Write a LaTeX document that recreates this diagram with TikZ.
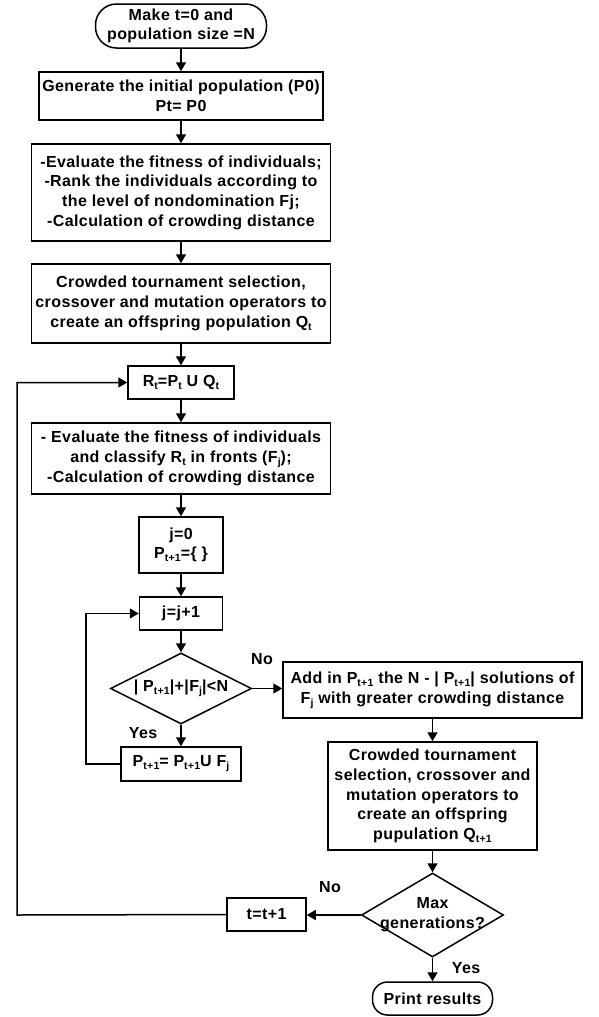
\documentclass[tikz,border=0pt]{standalone}
\usepackage{fontspec}
\setmainfont{Liberation Sans}[LetterSpace=2.5]
\usetikzlibrary{arrows.meta,shapes.geometric}
\newcommand\lowr[1]{\raisebox{-0.35ex}{\fontsize{10.5pt}{10.5pt}\selectfont #1}}
\tikzset{
  base/.style={draw=black, line width=1.5pt, inner sep=0pt, align=center,
    font=\fontsize{16}{19.7}\selectfont\bfseries},
  procbox/.style={base, rectangle},
  termbox/.style={base, rounded corners=#1},
  decbox/.style={draw=black, line width=1.5pt, shape=diamond, inner sep=0pt, aspect=2},
  lbl/.style={inner sep=0pt, font=\fontsize{16}{19.7}\selectfont\bfseries},
  arr/.style={line width=1.5pt, -{Triangle[length=9pt,width=10pt]}},
  ln/.style={line width=1.5pt}
}
\begin{document}
\begin{tikzpicture}[x=1pt,y=1pt]
\useasboundingbox[fill=white] (0,0) rectangle (599,-1017);
\node[termbox=21pt, minimum width=171pt, minimum height=44pt] (start) at (181,-26) {Make t=0 and\\population size =N};
\node[procbox, minimum width=284pt, minimum height=48pt] (gen) at (181,-96) {Generate the initial population (P0)\\Pt= P0};
\node[procbox, minimum width=299pt, minimum height=97pt] (eval) at (181,-192.5) {-Evaluate the fitness of individuals;\\-Rank the individuals according to\\the level of nondomination Fj;\\-Calculation of crowding distance};
\node[procbox, minimum width=299pt, minimum height=79pt] (cts) at (181,-303.5) {Crowded tournament selection,\\crossover and mutation operators to\\create an offspring population Q\lowr{t}};
\node[procbox, minimum width=106pt, minimum height=33pt] (rt) at (181,-382.5) {R\lowr{t}=P\lowr{t} U Q\lowr{t}};
\node[procbox, minimum width=299pt, minimum height=71pt] (evaltwo) at (181,-458.5) {- Evaluate the fitness of individuals\\and classify R\lowr{t} in fronts (F\lowr{j});\\-Calculation of crowding distance};
\node[procbox, minimum width=84pt, minimum height=56pt] (jzero) at (181,-545) {j=0\\P\lowr{t+1}=\{ \}};
\node[procbox, minimum width=83pt, minimum height=33pt] (jj) at (181,-613.5) {j=j+1};
\node[decbox, minimum width=141pt, minimum height=71pt] (dia) at (181,-688.5) {};
\node[lbl] (diatext) at (dia.center) {| P\lowr{t+1}|+|F\lowr{j}|<N};
\node[procbox, minimum width=120pt, minimum height=34pt] (pb) at (181,-764) {P\lowr{t+1}= P\lowr{t+1}U F\lowr{j}};
\node[procbox, minimum width=299pt, minimum height=56pt] (add) at (432.5,-690) {Add in P\lowr{t+1} the N - | P\lowr{t+1}| solutions of\\F\lowr{j} with greater crowding distance};
\node[procbox, minimum width=209pt, minimum height=108pt] (ctstwo) at (432.5,-796) {Crowded tournament\\selection, crossover and\\mutation operators to\\create an offspring\\pupulation Q\lowr{t+1}};
\node[decbox, minimum width=142pt, minimum height=84pt] (maxd) at (432.5,-915) {};
\node[lbl, align=center] (maxtext) at (maxd.center) {Max\\generations?};
\node[procbox, minimum width=79pt, minimum height=33pt] (tt) at (266.5,-914.5) {t=t+1};
\node[termbox=15pt, minimum width=120pt, minimum height=33pt] (print) at (432.5,-998.5) {Print results};
\coordinate (loopa) at (17,-915);
\coordinate (loopb) at (86,-764);
% labels
\node[lbl] (no1) at (262,-659) {No};
\node[lbl] (yes1) at (143,-733) {Yes};
\node[lbl] (no2) at (330,-887) {No};
\node[lbl] (yes2) at (466,-968) {Yes};
% arrows
\draw[arr] (start) -- (gen);
\draw[arr] (gen) -- (eval);
\draw[arr] (eval) -- (cts);
\draw[arr] (cts) -- (rt);
\draw[arr] (rt) -- (evaltwo);
\draw[arr] (evaltwo) -- (jzero);
\draw[arr] (jzero) -- (jj);
\draw[arr] (jj) -- (dia);
\draw[arr] (dia.south) -- (pb);
\draw[arr] (dia.east) -- (dia.east -| add.west);
\draw[arr] (add.south -| ctstwo.north) -- (ctstwo);
\draw[arr] (ctstwo) -- (maxd.north);
\draw[arr] (maxd.south) -- (print);
\draw[arr] (maxd.west) -- (maxd.west -| tt.east);
\draw[arr] (pb.west) -- (loopb) |- (jj.west);
\draw[arr] (tt.west) -- (loopa) |- (rt.west);
\end{tikzpicture}
\end{document}
